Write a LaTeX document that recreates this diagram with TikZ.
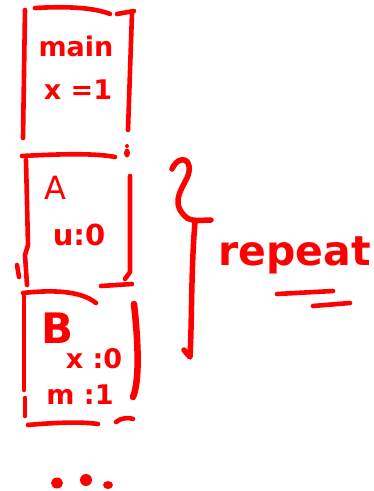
\documentclass[tikz,border=0pt]{standalone}
\usepackage{fontspec}
\setsansfont{DejaVu Sans}
\usetikzlibrary{positioning}
\tikzset{
  every picture/.style={line cap=round, line join=round},
  pen/.style={red, line width=4.6pt},
  ink/.style={text=red, font=\sffamily\bfseries, inner sep=0pt},
}
\newcommand{\inksize}[1]{\fontsize{#1}{#1}\selectfont}
\begin{document}
\begin{tikzpicture}[x=1pt, y=-1pt]
\useasboundingbox (0,0) rectangle (374,491);

% ------------------------------------------------------------------ main
\draw[pen] (23,138) -- (25,10);
\draw[pen] (35,8) .. controls (70,6) and (95,8) .. (110,14);
\draw[pen] (117,14) -- (134,11);
\draw[pen] (132,13) -- (128,130);
\fill[red] (127,146) circle (2pt);
\node[ink, font=\sffamily\bfseries\inksize{27}] (mainname) at (76,46) {main};
\node[ink, font=\sffamily\bfseries\inksize{27}] (mainx) at (78,90) {x =1};

% ------------------------------------------------------------------ A
\draw[pen] (22,156) .. controls (60,154) and (95,153) .. (115,157);
\fill[red] (127,153) ellipse (3pt and 4.5pt);
\draw[pen] (26,160) -- (28,245) -- (25,255) -- (27,285);
\draw[pen] (130,176) -- (130,272) -- (125,279);
\draw[pen] (17,265) -- (19,277);
\draw[pen] (101,286) -- (132,284);
\node[ink, font=\sffamily\inksize{32}] (aname) at (55,188) {A};
\node[ink, font=\sffamily\bfseries\inksize{29}] (au) at (79,235) {u:0};

% ------------------------------------------------------------------ B
\draw[pen] (23,293) .. controls (50,290) and (80,290) .. (96,303);
\draw[pen] (24,296) -- (24,390);
\draw[pen] (25,398) -- (25,416);
\draw[pen, line width=6.5pt] (134,304) .. controls (138,340) and (140,380) .. (133,397);
\draw[pen] (28,425) .. controls (60,422) and (85,422) .. (98,424);
\draw[pen] (116,422) .. controls (120,418) and (130,417) .. (133,419);
\node[ink, font=\sffamily\bfseries\inksize{42}] (bname) at (58,328) {B};
\node[ink, font=\sffamily\bfseries\inksize{27}] (bx) at (94,359) {x :0};
\node[ink, font=\sffamily\bfseries\inksize{27}] (bm) at (80,395) {m :1};

% ------------------------------------------------------------------ more
\fill[red] (57,483) ellipse (6pt and 5.5pt);
\fill[red] (86,480) ellipse (6pt and 6pt);
\fill[red] (108,485) ellipse (5pt and 4pt);

% ------------------------------------------------------------------ brace
\draw[pen, line width=5.5pt] (172,169) .. controls (180,152) and (195,160) .. (187,178)
  .. controls (178,195) and (172,205) .. (187,218)
  .. controls (195,222) and (200,220) .. (211,220);
\draw[pen, line width=5.5pt] (195,222) .. controls (191,270) and (192,320) .. (190,357)
  -- (184,350);
\node[ink, font=\sffamily\bfseries\inksize{41}, anchor=west] (rep) at (218,255) {repeat};
\draw[pen] (277,294) -- (333,291);
\draw[pen] (313,306) -- (350,303);
\end{tikzpicture}
\end{document}
